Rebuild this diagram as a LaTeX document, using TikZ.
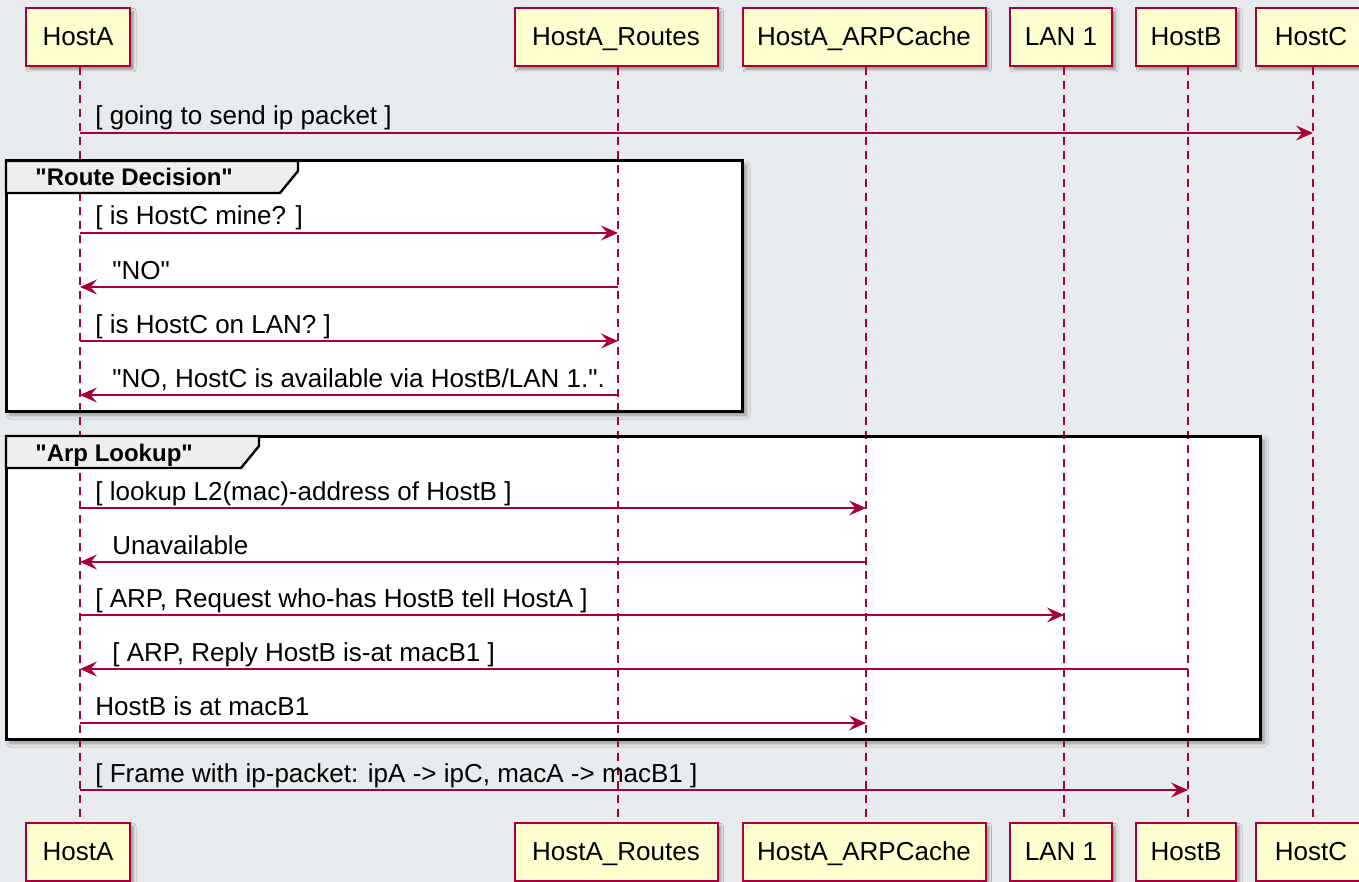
\documentclass[tikz,border=0pt]{standalone}
\usepackage{fontspec}
% a family without the TeX input mapping, so that " stays a straight quote
\newfontfamily\seqfont{Liberation Sans}
\usetikzlibrary{arrows.meta,shadows.blur}
\definecolor{canvas}{HTML}{E8EBED}
\definecolor{seqred}{HTML}{A80036}
\definecolor{partfill}{HTML}{FEFECE}
\definecolor{tabfill}{HTML}{EEEEEE}
\begin{document}
\begin{tikzpicture}[x=0.5pt,y=-0.5pt,
  participant/.style={draw=seqred, fill=partfill, line width=1pt, minimum height=29pt,
    inner sep=0pt, text height=9.4pt, text depth=0.8pt, font=\seqfont\fontsize{13}{15}\selectfont,
    blur shadow={shadow xshift=1.6pt, shadow yshift=-1.6pt, shadow blur radius=1.4pt}},
  lifeline/.style={draw=seqred, line width=0.6pt, dash pattern=on 4pt off 3pt},
  msg/.style={draw=seqred, line width=0.75pt, -{Stealth[length=8.5pt,width=7.5pt,inset=3.2pt]}},
  msglabel/.style={anchor=base west, inner sep=0pt, font=\seqfont\fontsize{13}{15}\selectfont},
  groupfill/.style={fill=white,
    blur shadow={shadow xshift=2pt, shadow yshift=-2pt, shadow blur radius=2pt}},
  groupline/.style={draw=black, line width=1.5pt},
  grouptab/.style={fill=tabfill, draw=black, line width=1.2pt, line join=miter},
  grouplabel/.style={anchor=base west, inner sep=0pt, font=\seqfont\bfseries\fontsize{12}{14}\selectfont}
]
\useasboundingbox (0,0) rectangle (1359,882);
\fill[canvas] (0,0) rectangle (1359,882);

% lifeline positions
\coordinate (xA) at (80,0);
\coordinate (xR) at (618,0);
\coordinate (xK) at (866,0);
\coordinate (xL) at (1064,0);
\coordinate (xB) at (1188,0);
\coordinate (xC) at (1313,0);

% participants, top row
\node[participant, minimum width=52pt]    (pA) at (78,37)   {HostA};
\node[participant, minimum width=101.5pt] (pR) at (616,37)  {HostA\_Routes};
\node[participant, minimum width=121.5pt] (pK) at (864,37)  {HostA\_ARPCache};
\node[participant, minimum width=51pt]    (pL) at (1061,37) {LAN 1};
\node[participant, minimum width=50pt]    (pB) at (1186,37) {HostB};
\node[participant, minimum width=55pt]    (pC) at (1311,37) {HostC};

% participants, bottom row
\node[participant, minimum width=52pt]    (qA) at (78,852)   {HostA};
\node[participant, minimum width=101.5pt] (qR) at (616,852)  {HostA\_Routes};
\node[participant, minimum width=121.5pt] (qK) at (864,852)  {HostA\_ARPCache};
\node[participant, minimum width=51pt]    (qL) at (1061,852) {LAN 1};
\node[participant, minimum width=50pt]    (qB) at (1186,852) {HostB};
\node[participant, minimum width=55pt]    (qC) at (1311,852) {HostC};

% group backgrounds
\path[groupfill] (6,161) rectangle (742,411);
\path[groupfill] (6,436) rectangle (1260,739);

% lifelines
\draw[lifeline] (pA.south -| xA) -- (qA.north -| xA);
\draw[lifeline] (pR.south -| xR) -- (qR.north -| xR);
\draw[lifeline] (pK.south -| xK) -- (qK.north -| xK);
\draw[lifeline] (pL.south -| xL) -- (qL.north -| xL);
\draw[lifeline] (pB.south -| xB) -- (qB.north -| xB);
\draw[lifeline] (pC.south -| xC) -- (qC.north -| xC);

% group frames and their tabs
\draw[groupline] (6,161) rectangle (742,411);
\draw[grouptab] (6,161) -- (298,161) -- (298,171) -- (280,193) -- (6,193) -- cycle;
\node[grouplabel] (g1) at (35,186) {"Route Decision"};

\draw[groupline] (6,436) rectangle (1260,739);
\draw[grouptab] (6,436) -- (259,436) -- (259,446) -- (241,468) -- (6,468) -- cycle;
\node[grouplabel] (g2) at (35,461) {"Arp Lookup"};

% messages
\draw[msg] (xA |- 0,133) -- (xC |- 0,133);
\node[msglabel] (m1) at (95,125) {[ going to send ip packet ]};

\draw[msg] (xA |- 0,233) -- (xR |- 0,233);
\node[msglabel] (m2) at (95,225) {[ is HostC mine? ]};

\draw[msg] (xR |- 0,287) -- (xA |- 0,287);
\node[msglabel] (m3) at (112,279) {"NO"};

\draw[msg] (xA |- 0,341) -- (xR |- 0,341);
\node[msglabel] (m4) at (95,333) {[ is HostC on LAN? ]};

\draw[msg] (xR |- 0,395) -- (xA |- 0,395);
\node[msglabel] (m5) at (112,387) {"NO, HostC is available via HostB/LAN 1.".};

\draw[msg] (xA |- 0,508) -- (xK |- 0,508);
\node[msglabel] (m6) at (95,500) {[ lookup L2(mac)-address of HostB ]};

\draw[msg] (xK |- 0,562) -- (xA |- 0,562);
\node[msglabel] (m7) at (112,554) {Unavailable};

\draw[msg] (xA |- 0,615) -- (xL |- 0,615);
\node[msglabel] (m8) at (95,607) {[ ARP, Request who-has HostB tell HostA ]};

\draw[msg] (xB |- 0,669) -- (xA |- 0,669);
\node[msglabel] (m9) at (112,661) {[ ARP, Reply HostB is-at macB1 ]};

\draw[msg] (xA |- 0,723) -- (xK |- 0,723);
\node[msglabel] (m10) at (95,715) {HostB is at macB1};

\draw[msg] (xA |- 0,790) -- (xB |- 0,790);
\node[msglabel] (m11) at (95,782) {[ Frame with ip-packet: ipA -> ipC, macA -> macB1 ]};
\end{tikzpicture}
\end{document}
